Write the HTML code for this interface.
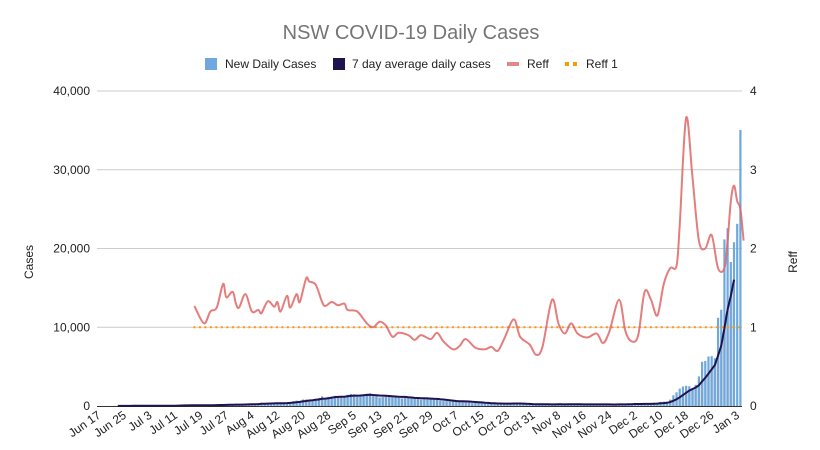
<!DOCTYPE html>
<html><head><meta charset="utf-8"><style>
body{margin:0;background:#fff;}
svg{display:block;font-family:"Liberation Sans",sans-serif;}
</style></head><body>
<svg id="chart" width="820" height="450" viewBox="0 0 820 450">
<text x="411" y="39" text-anchor="middle" font-size="20" fill="#757575">NSW COVID-19 Daily Cases</text>
<g font-size="12" fill="#222">
<g><rect x="205" y="58" width="12" height="12" fill="#6fa8dc"/><text x="225" y="68">New Daily Cases</text></g>
<g><rect x="333" y="58" width="12" height="12" fill="#20124d"/><text x="352" y="68">7 day average daily cases</text></g>
<g><rect x="507" y="62" width="12" height="4" fill="#e06666" opacity="0.8"/><text x="527" y="68">Reff</text></g>
<g><rect x="565" y="62" width="4" height="4" fill="#ff9900"/><rect x="573" y="62" width="4" height="4" fill="#ff9900"/><text x="586" y="68">Reff 1</text></g>
</g>
<text transform="translate(33,262) rotate(-90)" text-anchor="middle" font-size="12" fill="#222">Cases</text>
<text transform="translate(797,262) rotate(-90)" text-anchor="middle" font-size="12" fill="#222">Reff</text>
<g id="grid"></g><g id="bars"></g><g id="avg"></g><g id="reff"></g><g id="xt"></g>
</svg>
<script>
const startDate = [2021, 5, 17];
const cases = [5,3,4,7,10,11,10,18,22,29,30,18,19,22,
24,31,16,35,27,38,27,44,50,45,77,112,89,97,65,105,111,98,78,98,110,124,136,163,141,145,172,177,239,170,163,
207,199,262,291,262,319,390,345,283,356,344,345,390,466,415,452,633,681,644,825,830,818,753,919,1029,1218,1035,1164,1218,1290,1116,
1116,1288,1431,1533,1485,1281,1220,1405,1542,1599,1262,1257,1022,1127,1351,1284,1331,1083,1022,935,1063,1034,1063,961,1007,787,1022,863,863,941,
813,667,623,608,594,587,580,646,580,477,496,360,444,406,399,319,301,265,283,273,345,371,332,294,282,304,293,268,177,236,173,
135,249,308,216,185,187,169,193,225,257,261,250,187,173,180,152,216,264,236,186,180,172,141,201,228,251,261,193,190,231,
271,337,260,305,272,208,238,403,420,516,560,536,804,1360,1742,2213,2482,2566,2501,2213,2688,3763,5612,5715,6288,6324,6062,11201,12226,21151,22577,
18278,20794,23131,35054];
// Reff read points: [day index from Jun 17, value]
const reffDays = [30,33,35,37,39,40,42,43,44,46,48,50,51,53,55,56,57,59,60,62,63,65,66,68,70,71,73,75,77,78,81,84,86,88,90,92,94,97,99,101,104,106,108,111,113,115,118,121,123,125,127,130,132,135,137,139,142,144,146,148,150,153,156,158,160,163,165,167,169,171,173,175,177,179,181,182,184,186,188,190,192,194,196,197,198,199,200,201,202];
const reffVals = [1.27,1.05,1.2,1.25,1.55,1.38,1.45,1.3,1.25,1.42,1.2,1.22,1.18,1.33,1.26,1.32,1.2,1.4,1.25,1.42,1.32,1.62,1.58,1.54,1.32,1.27,1.32,1.28,1.3,1.22,1.2,1.05,1.0,1.07,1.02,0.88,0.93,0.9,0.84,0.9,0.85,0.93,0.82,0.72,0.76,0.85,0.74,0.72,0.75,0.7,0.85,1.1,0.88,0.78,0.65,0.75,1.35,1.05,0.92,1.05,0.92,0.87,0.92,0.8,0.95,1.35,0.95,0.82,0.9,1.45,1.35,1.15,1.55,1.75,1.78,2.3,3.66,2.9,2.1,2.0,2.17,1.75,1.75,2.1,2.6,2.8,2.6,2.5,2.1];
const leftTicks = [0,10000,20000,30000,40000];
const rightTicks = [0,1,2,3,4];
const months = ["Jan","Feb","Mar","Apr","May","Jun","Jul","Aug","Sep","Oct","Nov","Dec"];
const NS="http://www.w3.org/2000/svg";
const X0=97,X1=742,Y0=406,Y1=91,N=cases.length;
const bw=(X1-X0)/N;
const xc=i=>X0+(i+0.5)*bw;
const yL=v=>Y0-v/40000*(Y0-Y1);
const yR=v=>Y0-v/4*(Y0-Y1);
function mk(t,a,p){const e=document.createElementNS(NS,t);for(const k in a)e.setAttribute(k,a[k]);p.appendChild(e);return e;}
const grid=document.getElementById('grid');
leftTicks.forEach((t,i)=>{
  if(t>0){const l=mk('line',{x1:X0,x2:X1,y1:yL(t),y2:yL(t),stroke:'#ccc','stroke-width':1},grid);
  
  }
  const tx=mk('text',{x:90,y:yL(t)+4,'text-anchor':'end','font-size':12,fill:'#222'},grid);tx.textContent=t.toLocaleString('en-US');
  
  
});
rightTicks.forEach(t=>{
  const tx=mk('text',{x:750,y:yR(t)+4,'font-size':12,fill:'#222'},grid);tx.textContent=t;
  
  
});
const ax=mk('line',{x1:X0,x2:X1,y1:Y0+0.5,y2:Y0+0.5,stroke:'#333','stroke-width':1},grid);


// avg
const avg=[];for(let i=6;i<N-2;i++){let s=0;for(let k=i-6;k<=i;k++)s+=cases[k];avg.push([i,s/7]);}
const ag=document.getElementById('avg');
let ap=avg.map((p,j)=>(j?'L':'M')+xc(p[0]).toFixed(1)+','+yL(p[1]).toFixed(1)).join('');
const area=mk('path',{d:ap+'L'+xc(avg[avg.length-1][0])+','+Y0+'L'+xc(avg[0][0])+','+Y0+'Z',fill:'#d0d0dc',opacity:0.7},document.getElementById('bars'));


const bg=document.getElementById('bars');
cases.forEach((v,i)=>{const r=mk('rect',{x:xc(i)-1.1,width:2.2,y:yL(v),height:Y0-yL(v),fill:'#6fa8dc'},bg);
  
  });
const al=mk('path',{d:ap,fill:'none',stroke:'#20124d','stroke-width':2},ag);


// reff 1
const rg=document.getElementById('reff');
const r1=mk('line',{x1:xc(reffDays[0])-1,x2:xc(N-1),y1:yR(1),y2:yR(1),stroke:'#ff9900','stroke-width':2,'stroke-dasharray':'2,3.5'},rg);


// reff smooth
const pts=reffDays.map((d,i)=>[xc(d),yR(reffVals[i])]);
let d='M'+pts[0][0]+','+pts[0][1];
for(let i=0;i<pts.length-1;i++){const p0=pts[Math.max(0,i-1)],p1=pts[i],p2=pts[i+1],p3=pts[Math.min(pts.length-1,i+2)];
d+='C'+(p1[0]+(p2[0]-p0[0])/6)+','+(p1[1]+(p2[1]-p0[1])/6)+' '+(p2[0]-(p3[0]-p1[0])/6)+','+(p2[1]-(p3[1]-p1[1])/6)+' '+p2[0]+','+p2[1];}
const rl=mk('path',{d:d,fill:'none',stroke:'#e06666','stroke-width':2,opacity:0.85},rg);


// x ticks
const xt=document.getElementById('xt');
for(let i=0;i<N;i+=8){const dt=new Date(startDate[0],startDate[1],startDate[2]+i);
  const lab=months[dt.getMonth()]+' '+dt.getDate();
  const x=xc(i)+3,y=Y0+11;
  const t=mk('text',{x:x,y:y,'text-anchor':'end','font-size':12,fill:'#222',transform:`rotate(-35 ${x} ${y})`},xt);t.textContent=lab;
  
  }
</script>
</body></html>
